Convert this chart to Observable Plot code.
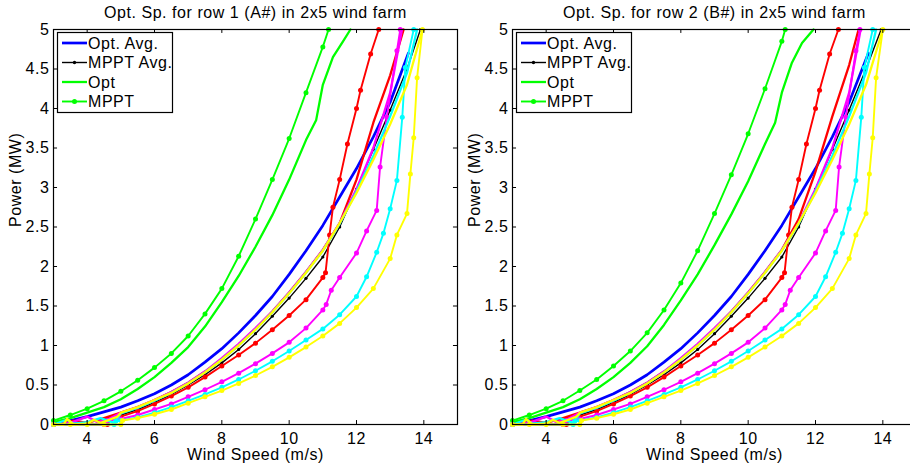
<!DOCTYPE html>
<html><head><meta charset="utf-8">
<script src="https://cdn.jsdelivr.net/npm/d3@7"></script>
<script src="https://cdn.jsdelivr.net/npm/@observablehq/plot@0.6"></script>
<style>
body{margin:0;background:#fff;}
#wrap{position:relative;width:910px;height:464px;overflow:hidden;background:#fff;font-family:"Liberation Sans",Arial,Helvetica,sans-serif;}
.panel{position:absolute;top:0;width:460px;height:464px;}
.panel svg{max-width:none !important;width:460px;height:464px;}
.overlay{position:absolute;top:0;left:0;pointer-events:none;}
text{letter-spacing:0.55px;}
</style></head>
<body><div id="wrap"></div>
<script>
// ---------- labels & ticks ----------
const xTicks = [4, 6, 8, 10, 12, 14];
const yTicks = [0, 0.5, 1, 1.5, 2, 2.5, 3, 3.5, 4, 4.5, 5];
const titles = ["Opt. Sp. for row 1 (A#) in 2x5 wind farm", "Opt. Sp. for row 2 (B#) in 2x5 wind farm"];
const xLabel = "Wind Speed (m/s)";
const yLabel = "Power (MW)";
const legendLabels = ["Opt. Avg.", "MPPT Avg.", "Opt", "MPPT"];
const turbineColors = ["#00ff00", "#ff0000", "#ff00ff", "#00ffff", "#ffff00"];

// ---------- row 1 (A#) : [wind speed, power MW] ----------
const r1OptAvg = [[3,0.02],[3.5,0.05],[4,0.1],[4.5,0.16],[5,0.22],[5.5,0.3],[6,0.39],[6.5,0.5],[7,0.63],[7.5,0.79],[8,0.96],[8.5,1.16],[9,1.38],[9.5,1.62],[10,1.9],[10.5,2.2],[11,2.52],[11.5,2.88],[12,3.24],[12.5,3.64],[13,4.08],[13.54,4.7]];
const r1MpptAvg = [[3,0],[3.5,0.01],[4,0.03],[4.5,0.07],[5,0.12],[5.5,0.19],[6,0.28],[6.5,0.38],[7,0.5],[7.5,0.63],[8,0.78],[8.5,0.95],[9,1.15],[9.5,1.37],[10,1.6],[10.5,1.85],[11,2.12],[11.5,2.5],[12,2.98],[12.5,3.48],[13,3.98],[13.5,4.5],[13.9,5]];
const r1OptGreen = [[3,0.03],[3.5,0.08],[4,0.15],[4.5,0.22],[5,0.32],[5.5,0.45],[6,0.6],[6.5,0.78],[7,0.98],[7.5,1.24],[8,1.55],[8.5,1.88],[9,2.25],[9.5,2.65],[10,3.1],[10.5,3.6],[10.8,3.85],[11,4.3],[11.3,4.65],[11.6,4.85],[11.82,5]];
const r1MpptGreen = [[3,0.05],[3.5,0.12],[4,0.2],[4.5,0.3],[5,0.42],[5.5,0.56],[6,0.72],[6.5,0.9],[7,1.12],[7.5,1.4],[8,1.72],[8.5,2.13],[9,2.6],[9.5,3.1],[10,3.62],[10.5,4.2],[11,4.78],[11.17,5]];
const r1OptRed = [[3,0],[3.6,0.05],[4,0.02],[4.5,0.08],[5,0.15],[5.5,0.22],[6,0.31],[6.5,0.41],[7,0.53],[7.5,0.67],[8,0.83],[8.5,1.01],[9,1.21],[9.5,1.43],[10,1.67],[10.5,1.93],[11,2.21],[11.5,2.55],[12,3.1],[12.5,3.82],[13,4.42],[13.4,5]];
const r1MpptRed = [[3,0],[4.6,0],[4.7,0.07],[5,0.1],[5.5,0.17],[6,0.26],[6.5,0.36],[7,0.47],[7.5,0.6],[8,0.74],[8.5,0.88],[9,1.03],[9.5,1.2],[10,1.38],[10.5,1.58],[11,1.86],[11.08,1.92],[11.2,2.4],[11.3,2.75],[11.5,3.1],[11.73,3.55],[12,4],[12.12,4.23],[12.42,4.69],[12.66,5]];
const r1OptMagenta = [[3,0],[3.5,0.02],[4,0.1],[4.3,0.03],[4.6,0.06],[5,0.15],[5.5,0.22],[6,0.31],[6.5,0.41],[7,0.53],[7.5,0.67],[8,0.84],[8.5,1.02],[9,1.22],[9.5,1.43],[10,1.67],[10.5,1.93],[11,2.21],[11.5,2.55],[12,2.98],[12.5,3.5],[13,4.2],[13.35,5]];
const r1MpptMagenta = [[3,0],[4.5,0],[4.6,0.05],[5,0.07],[5.5,0.12],[6,0.19],[6.5,0.26],[7,0.35],[7.5,0.44],[8,0.54],[8.5,0.65],[9,0.77],[9.5,0.9],[10,1.04],[10.5,1.22],[11,1.45],[11.1,1.52],[11.25,1.7],[11.5,1.86],[12,2.17],[12.3,2.45],[12.6,2.71],[12.7,3.26],[12.9,3.89],[13.2,4.73],[13.3,5]];
const r1OptCyan = [[3,0],[3.4,0.06],[3.6,0.01],[4,0.03],[4.4,0.08],[4.8,0.02],[5,0.14],[5.5,0.21],[6,0.3],[6.5,0.4],[7,0.52],[7.5,0.66],[8,0.82],[8.5,1.0],[9,1.2],[9.5,1.42],[10,1.66],[10.5,1.92],[11,2.2],[11.5,2.54],[12,2.95],[12.5,3.4],[13,3.9],[13.5,4.45],[13.8,5]];
const r1MpptCyan = [[3,0],[4.8,0],[4.85,0.04],[5,0.05],[5.5,0.09],[6,0.15],[6.5,0.22],[7,0.3],[7.5,0.38],[8,0.47],[8.5,0.57],[9,0.68],[9.5,0.8],[10,0.93],[10.5,1.07],[11,1.21],[11.5,1.39],[12,1.62],[12.3,1.87],[12.6,2.18],[12.8,2.42],[13,2.73],[13.2,3.09],[13.36,3.89],[13.45,4.52],[13.7,5]];
const r1OptYellow = [[3,0],[3.3,0],[3.4,0.07],[3.6,0],[4,0.01],[4.2,0.06],[4.4,0.02],[4.6,0.05],[4.9,0.1],[5,0.15],[5.5,0.22],[6,0.31],[6.5,0.4],[7,0.52],[7.5,0.66],[8,0.82],[8.5,1.0],[9,1.2],[9.5,1.42],[10,1.66],[10.5,1.92],[11,2.2],[11.5,2.55],[12,2.93],[12.5,3.35],[13,3.8],[13.5,4.3],[13.96,5]];
const r1MpptYellow = [[3,0],[3.5,0],[4,0],[4.5,0],[5,0],[5.05,0.05],[5.5,0.08],[6,0.13],[6.5,0.19],[7,0.27],[7.5,0.35],[8,0.43],[8.5,0.52],[9,0.62],[9.5,0.73],[10,0.85],[10.5,0.98],[11,1.12],[11.5,1.28],[12,1.48],[12.5,1.72],[13,2.1],[13.2,2.4],[13.5,2.67],[13.6,3.17],[13.7,3.63],[13.8,4.39],[13.96,5]];

// ---------- row 2 (B#) ----------
const r2OptAvg = [[3,0.02],[3.5,0.05],[4,0.1],[4.5,0.16],[5,0.22],[5.5,0.3],[6,0.39],[6.5,0.5],[7,0.63],[7.5,0.79],[8,0.96],[8.5,1.16],[9,1.38],[9.5,1.62],[10,1.9],[10.5,2.2],[11,2.52],[11.5,2.88],[12,3.24],[12.5,3.64],[13,4.08],[13.57,4.7]];
const r2MpptAvg = [[3,0],[3.5,0.01],[4,0.03],[4.5,0.07],[5,0.12],[5.5,0.19],[6,0.28],[6.5,0.38],[7,0.5],[7.5,0.63],[8,0.78],[8.5,0.95],[9,1.15],[9.5,1.37],[10,1.6],[10.5,1.85],[11,2.12],[11.5,2.5],[12,2.98],[12.5,3.48],[13,3.98],[13.5,4.5],[13.95,5]];
const r2OptGreen = [[3,0.03],[3.5,0.08],[4,0.15],[4.5,0.22],[5,0.32],[5.5,0.45],[6,0.6],[6.5,0.78],[7,0.99],[7.5,1.26],[8,1.57],[8.5,1.9],[9,2.27],[9.5,2.66],[10,3.08],[10.5,3.55],[10.8,3.82],[11,4.2],[11.3,4.58],[11.6,4.83],[11.94,5]];
const r2MpptGreen = [[3,0.05],[3.5,0.12],[4,0.2],[4.5,0.3],[5,0.43],[5.5,0.57],[6,0.74],[6.5,0.93],[7,1.16],[7.5,1.45],[8,1.79],[8.5,2.2],[9,2.67],[9.5,3.16],[10,3.68],[10.5,4.25],[11,4.85],[11.1,5]];
const r2OptRed = [[3,0],[3.6,0.05],[4,0.02],[4.5,0.08],[5,0.15],[5.5,0.22],[6,0.31],[6.5,0.41],[7,0.53],[7.5,0.67],[8,0.83],[8.5,1.01],[9,1.21],[9.5,1.43],[10,1.67],[10.5,1.93],[11,2.21],[11.5,2.6],[12,3.2],[12.5,3.9],[13,4.55],[13.28,5]];
const r2MpptRed = [[3,0],[4.6,0],[4.7,0.07],[5,0.1],[5.5,0.17],[6,0.26],[6.5,0.36],[7,0.47],[7.5,0.6],[8,0.74],[8.5,0.88],[9,1.03],[9.5,1.2],[10,1.38],[10.5,1.58],[11,1.86],[11.08,1.92],[11.2,2.4],[11.3,2.75],[11.5,3.1],[11.73,3.55],[12,4],[12.12,4.23],[12.42,4.69],[12.68,5]];
const r2OptMagenta = [[3,0],[3.5,0.02],[4,0.1],[4.3,0.03],[4.6,0.06],[5,0.15],[5.5,0.22],[6,0.31],[6.5,0.41],[7,0.53],[7.5,0.67],[8,0.84],[8.5,1.02],[9,1.22],[9.5,1.43],[10,1.67],[10.5,1.93],[11,2.21],[11.5,2.55],[12,2.98],[12.5,3.5],[13,4.2],[13.34,5]];
const r2MpptMagenta = [[3,0],[4.5,0],[4.6,0.05],[5,0.07],[5.5,0.12],[6,0.19],[6.5,0.26],[7,0.35],[7.5,0.44],[8,0.54],[8.5,0.65],[9,0.77],[9.5,0.9],[10,1.04],[10.5,1.22],[11,1.45],[11.1,1.52],[11.25,1.7],[11.5,1.86],[12,2.17],[12.3,2.45],[12.6,2.71],[12.7,3.26],[12.9,3.89],[13.2,4.73],[13.32,5]];
const r2OptCyan = [[3,0],[3.4,0.06],[3.6,0.01],[4,0.03],[4.4,0.08],[4.8,0.02],[5,0.14],[5.5,0.21],[6,0.3],[6.5,0.4],[7,0.52],[7.5,0.66],[8,0.82],[8.5,1.0],[9,1.2],[9.5,1.42],[10,1.66],[10.5,1.92],[11,2.2],[11.5,2.54],[12,2.95],[12.5,3.4],[13,3.9],[13.5,4.45],[13.8,5]];
const r2MpptCyan = [[3,0],[4.8,0],[4.85,0.04],[5,0.05],[5.5,0.09],[6,0.15],[6.5,0.22],[7,0.3],[7.5,0.38],[8,0.47],[8.5,0.57],[9,0.68],[9.5,0.8],[10,0.93],[10.5,1.07],[11,1.21],[11.5,1.39],[12,1.62],[12.3,1.87],[12.6,2.18],[12.8,2.42],[13,2.73],[13.2,3.09],[13.36,3.89],[13.45,4.52],[13.7,5]];
const r2OptYellow = [[3,0],[3.3,0],[3.4,0.07],[3.6,0],[4,0.01],[4.2,0.06],[4.4,0.02],[4.6,0.05],[4.9,0.1],[5,0.15],[5.5,0.22],[6,0.31],[6.5,0.4],[7,0.52],[7.5,0.66],[8,0.82],[8.5,1.0],[9,1.2],[9.5,1.42],[10,1.66],[10.5,1.92],[11,2.2],[11.5,2.55],[12,2.93],[12.5,3.35],[13,3.8],[13.5,4.3],[14,5]];
const r2MpptYellow = [[3,0],[3.5,0],[4,0],[4.5,0],[5,0],[5.05,0.05],[5.5,0.08],[6,0.13],[6.5,0.19],[7,0.27],[7.5,0.35],[8,0.43],[8.5,0.52],[9,0.62],[9.5,0.73],[10,0.85],[10.5,0.98],[11,1.12],[11.5,1.28],[12,1.48],[12.5,1.72],[13,2.1],[13.2,2.4],[13.5,2.67],[13.6,3.17],[13.7,3.63],[13.8,4.39],[14,5]];

const rows = [
  {avgOpt: r1OptAvg, avgMppt: r1MpptAvg, opt: [r1OptGreen, r1OptRed, r1OptMagenta, r1OptCyan, r1OptYellow], mppt: [r1MpptGreen, r1MpptRed, r1MpptMagenta, r1MpptCyan, r1MpptYellow]},
  {avgOpt: r2OptAvg, avgMppt: r2MpptAvg, opt: [r2OptGreen, r2OptRed, r2OptMagenta, r2OptCyan, r2OptYellow], mppt: [r2MpptGreen, r2MpptRed, r2MpptMagenta, r2MpptCyan, r2MpptYellow]}
];

// ---------- drawing ----------
const wrap = document.getElementById("wrap");
const FONT = '"Liberation Sans", Arial, Helvetica, sans-serif';
const panelLayout = [{left: 0, marginLeft: 53, marginRight: 3}, {left: 460, marginLeft: 52, marginRight: 4}];
const X = d => d[0], Y = d => d[1];

rows.forEach((row, i) => {
  const L = panelLayout[i];
  const marks = [];
  marks.push(Plot.line(row.avgOpt, {x: X, y: Y, stroke: "#0000ff", strokeWidth: 2.7}));
  marks.push(Plot.line(row.avgMppt, {x: X, y: Y, stroke: "#000", strokeWidth: 1.4}));
  marks.push(Plot.dot(row.avgMppt, {x: X, y: Y, r: 1.6, fill: "#000"}));
  row.opt.forEach((s, k) => {
    marks.push(Plot.line(s, {x: X, y: Y, stroke: turbineColors[k], strokeWidth: 2.3}));
    marks.push(Plot.line(row.mppt[k], {x: X, y: Y, stroke: turbineColors[k], strokeWidth: 1.9}));
    marks.push(Plot.dot(row.mppt[k], {x: X, y: Y, r: 2.5, fill: turbineColors[k]}));
  });
  // box and inward ticks (MATLAB style)
  marks.push(Plot.frame({stroke: "#000", strokeWidth: 1.2}));
  marks.push(Plot.ruleX(xTicks, {x: d => d, y1: 0, y2: 0.05, stroke: "#000"}));
  marks.push(Plot.ruleX(xTicks, {x: d => d, y1: 5, y2: 4.95, stroke: "#000"}));
  marks.push(Plot.ruleY(yTicks, {y: d => d, x1: 3, x2: 3.12, stroke: "#000"}));
  marks.push(Plot.ruleY(yTicks, {y: d => d, x1: 15, x2: 14.88, stroke: "#000"}));
  // tick labels
  marks.push(Plot.text(xTicks, {x: d => d, y: 0, dy: 14, text: d => String(d), lineAnchor: "middle", fontSize: 16, fill: "#000"}));
  marks.push(Plot.text(yTicks, {x: 3, y: d => d, dx: -4, text: d => String(d), textAnchor: "end", lineAnchor: "middle", fontSize: 16, fill: "#000"}));
  // axis titles
  marks.push(Plot.text([xLabel], {frameAnchor: "bottom", dy: 30, text: d => d, lineAnchor: "middle", fontSize: 16, fill: "#000"}));
  marks.push(Plot.text([yLabel], {frameAnchor: "left", dx: -38, text: d => d, rotate: -90, lineAnchor: "middle", fontSize: 16, fill: "#000"}));
  marks.push(Plot.text([titles[i]], {frameAnchor: "top", dy: -17, text: d => d, lineAnchor: "middle", fontSize: 16, fill: "#000"}));

  const svg = Plot.plot({
    width: 460, height: 464,
    marginLeft: L.marginLeft, marginRight: L.marginRight, marginTop: 29, marginBottom: 40,
    x: {domain: [3, 15], axis: null},
    y: {domain: [0, 5], axis: null},
    style: {fontFamily: FONT, fontSize: "16px", background: "transparent", color: "#000", overflow: "visible", maxWidth: "none"},
    marks
  });
  const holder = document.createElement("div");
  holder.className = "panel";
  holder.style.left = L.left + "px";
  holder.appendChild(svg);
  wrap.appendChild(holder);

  // legend (inside the axes, top-left)
  const lx = L.left + L.marginLeft + 4, ly = 32;
  const ns = "http://www.w3.org/2000/svg";
  const lg = document.createElementNS(ns, "svg");
  lg.setAttribute("class", "overlay");
  lg.setAttribute("width", 910); lg.setAttribute("height", 464);
  lg.style.fontFamily = FONT;
  const el = (tag, attrs) => { const e = document.createElementNS(ns, tag); for (const k in attrs) e.setAttribute(k, attrs[k]); lg.appendChild(e); return e; };
  el("rect", {x: lx + 0.5, y: ly + 0.5, width: 115, height: 80, fill: "#fff", stroke: "#000", "stroke-width": 1.2});
  const legendStyles = [
    {color: "#0000ff", w: 2.7, dot: false},
    {color: "#000", w: 1.4, dot: 1.7},
    {color: turbineColors[0], w: 2.3, dot: false},
    {color: turbineColors[0], w: 1.9, dot: 2.5}
  ];
  legendLabels.forEach((t, j) => {
    const yy = ly + 11 + j * 19.5;
    const st = legendStyles[j];
    el("line", {x1: lx + 5, x2: lx + 30, y1: yy, y2: yy, stroke: st.color, "stroke-width": st.w});
    if (st.dot) el("circle", {cx: lx + 17.5, cy: yy, r: st.dot, fill: st.color});
    const tx = el("text", {x: lx + 31, y: yy + 5.5, "font-size": 16, fill: "#000"});
    tx.textContent = t;
  });
  wrap.appendChild(lg);
});
</script>
</body></html>
